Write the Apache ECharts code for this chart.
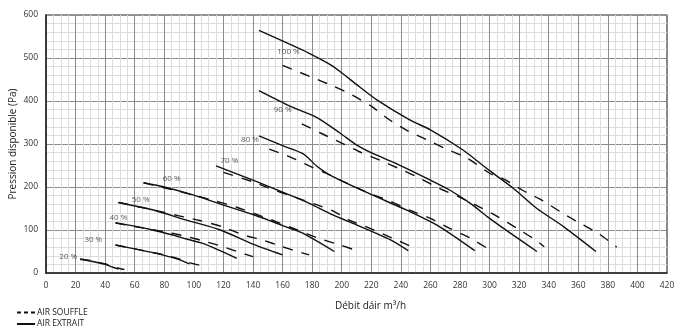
<!DOCTYPE html>
<html>
<head>
<meta charset="utf-8">
<script src="https://cdn.jsdelivr.net/npm/echarts@6/dist/echarts.min.js"></script>
<style>
html,body{margin:0;padding:0;background:#fff;}
#chart{width:676px;height:329px;}
</style>
</head>
<body>
<div id="chart"></div>
<script>
// ---- Data (débit m3/h, pression Pa) ----
const levelNames = ['20 %','30 %','40 %','50 %','60 %','70 %','80 %','90 %','100 %'];
const labelPos = [[15,37],[32,77],[49,128],[64,170],[85,219],[124,260],[138,309],[160,379],[164,514]];

const extrait20 = [[23,32],[30,28],[40,20],[44,15],[49,9]];
const extrait30 = [[47,65],[60,56],[70,49],[80,41],[90,31],[97,21]];
const extrait40 = [[47,116],[60,109],[72,100],[85,89],[95,79],[106,69],[117,53],[129,34]];
const extrait50 = [[49,164],[72,147],[95,123],[118,100],[140,67],[160,42]];
const extrait60 = [[66,210],[80,200],[100,181],[120,158],[140,136],[165,104],[174,92],[195,50]];
const extrait70 = [[115,249],[140,216],[165,181],[178,162],[194,135],[210,112],[233,77],[245,52]];
const extrait80 = [[144,319],[160,296],[174,277],[183,249],[194,224],[221,181],[244,146],[266,108],[290,52]];
const extrait90 = [[144,424],[165,388],[183,362],[199,325],[210,298],[221,278],[239,251],[260,216],[273,193],[287,162],[300,127],[316,88],[332,50]];
const extrait100 = [[144,564],[178,511],[192,485],[199,468],[212,433],[224,402],[246,356],[260,333],[282,286],[300,238],[316,197],[332,150],[350,108],[372,50]];

const souffle20 = [[23,32],[30,29],[40,21],[45,16],[50,10],[53,8]];
const souffle30 = [[47,65],[60,56],[70,49],[80,42],[90,33],[97,24],[104,18]];
const souffle40 = [[47,117],[60,108],[80,96],[94,86],[108,73],[120,61],[130,49],[140,38]];
const souffle50 = [[49,164],[72,147],[90,133],[104,122],[119,108],[133,89],[146,77],[160,61],[170,50],[178,42]];
const souffle60 = [[66,210],[93,187],[100,181],[114,168],[129,153],[142,137],[156,119],[170,100],[184,81],[199,65],[212,50]];
const souffle70 = [[120,234],[140,212],[154,193],[167,178],[182,160],[195,143],[205,123],[219,104],[233,83],[250,57]];
const souffle80 = [[151,288],[165,270],[178,249],[192,228],[199,216],[219,185],[233,167],[246,146],[260,127],[273,104],[287,81],[301,52]];
const souffle90 = [[173,347],[186,325],[200,302],[212,282],[226,262],[240,241],[253,220],[266,197],[280,176],[293,154],[306,130],[318,105],[331,77],[337,61]];
const souffle100 = [[160,483],[180,455],[194,435],[207,414],[220,388],[232,357],[245,330],[258,309],[271,288],[285,267],[300,232],[310,218],[322,193],[336,168],[349,140],[361,116],[374,91],[386,60]];

const extraitCurves = [extrait20,extrait30,extrait40,extrait50,extrait60,extrait70,extrait80,extrait90,extrait100];
const souffleCurves = [souffle20,souffle30,souffle40,souffle50,souffle60,souffle70,souffle80,souffle90,souffle100];

const FONT = 'Open Sans';
const INK = '#111';
const series = [];
souffleCurves.forEach(d => series.push({
  name: 'AIR SOUFFLE', type: 'line', data: d, smooth: 0.25, symbol: 'none',
  itemStyle: {color: INK},
  lineStyle: {color: INK, width: 1.4, type: [10, 9]}, z: 3
}));
extraitCurves.forEach(d => series.push({
  name: 'AIR EXTRAIT', type: 'line', data: d, smooth: 0.25, symbol: 'none',
  itemStyle: {color: INK},
  lineStyle: {color: INK, width: 1.4, type: 'solid'}, z: 4
}));
series.push({
  name: 'levels', type: 'scatter', symbolSize: 0, silent: true,
  data: labelPos.map((p, i) => ({value: p, name: levelNames[i]})),
  label: {show: true, position: 'inside', formatter: '{b}', color: '#333', fontSize: 8, fontFamily: FONT}
});

const chart = echarts.init(document.getElementById('chart'), null, {renderer: 'canvas'});
chart.setOption({
  animation: false,
  backgroundColor: '#fff',
  grid: {left: 46, right: 9, top: 15, bottom: 56, show: true, borderColor: '#333', borderWidth: 1.2,
         containLabel: false, outerBoundsMode: 'none'},
  legend: {
    orient: 'vertical', left: 12, top: 302, height: 40,
    itemWidth: 18, itemHeight: 2, itemGap: 0.5,
    data: [
      {name: 'AIR SOUFFLE', icon: 'path://M0,0h4v2h-4z M7,0h4v2h-4z M14,0h4v2h-4z', itemStyle: {color: INK, opacity: 1}},
      {name: 'AIR EXTRAIT', icon: 'path://M0,0h18v2h-18z', itemStyle: {color: INK, opacity: 1}}
    ],
    textStyle: {fontSize: 8.5, fontFamily: FONT, color: '#222', padding: [0,0,0,-3], lineHeight: 11}
  },
  xAxis: {
    type: 'value', min: 0, max: 420, interval: 20,
    name: 'Débit dáir m³/h', nameLocation: 'middle', nameGap: 28, nameMoveOverlap: false,
    nameTextStyle: {fontSize: 10, fontFamily: FONT, color: '#222', padding: [0,0,0,28]},
    axisLine: {show: true, lineStyle: {color: '#222', width: 1.5}},
    axisTick: {show: false},
    axisLabel: {fontSize: 8.5, fontFamily: FONT, color: '#333', margin: 8},
    splitLine: {show: true, lineStyle: {color: '#8c8c8c', width: 1}},
    minorTick: {show: false, splitNumber: 4},
    minorSplitLine: {show: true, lineStyle: {color: '#dcdcdc', width: 1}}
  },
  yAxis: {
    type: 'value', min: 0, max: 600, interval: 100,
    name: 'Pression disponible (Pa)', nameLocation: 'middle', nameGap: 28, nameMoveOverlap: false,
    nameTextStyle: {fontSize: 10, fontFamily: FONT, color: '#222'},
    axisLine: {show: true, lineStyle: {color: '#222', width: 1.5}},
    axisTick: {show: false},
    axisLabel: {fontSize: 8.5, fontFamily: FONT, color: '#333', margin: 8},
    splitLine: {show: true, lineStyle: {color: '#8c8c8c', width: 1}},
    minorTick: {show: false, splitNumber: 5},
    minorSplitLine: {show: true, lineStyle: {color: '#dcdcdc', width: 1}}
  },
  series: series
});
</script>
</body>
</html>
